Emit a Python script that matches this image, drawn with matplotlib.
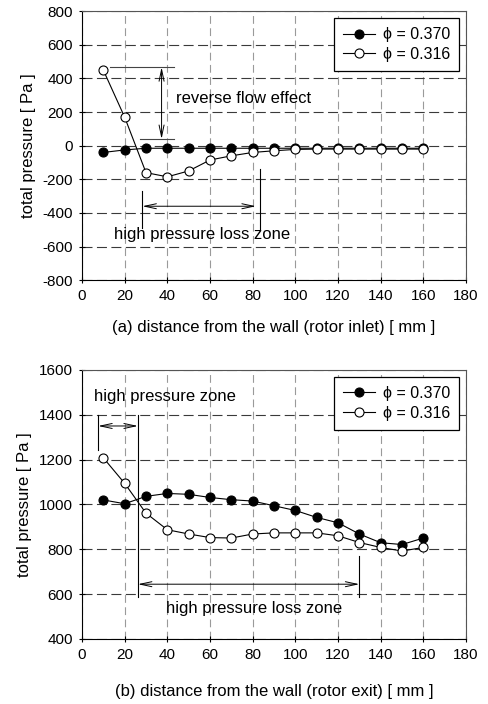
import matplotlib
matplotlib.use('Agg')
import matplotlib.pyplot as plt
import numpy as np

plt.rcParams['font.family'] = ['Liberation Sans', 'DejaVu Sans']
plt.rcParams['font.size'] = 12
plt.rcParams['axes.unicode_minus'] = False

# ---- data ----
dist = [10, 20, 30, 40, 50, 60, 70, 80, 90, 100, 110, 120, 130, 140, 150, 160]

inlet_370 = [-40, -25, -15, -15, -15, -15, -15, -15, -15, -15, -15, -15, -15, -15, -15, -15]
inlet_316 = [450, 170, -160, -185, -150, -85, -60, -40, -30, -22, -20, -20, -20, -20, -20, -20]

exit_370 = [1020, 1003, 1036, 1049, 1045, 1031, 1021, 1015, 994, 973, 942, 918, 868, 829, 821, 850]
exit_316 = [1208, 1094, 961, 887, 868, 852, 850, 868, 873, 873, 873, 860, 830, 808, 792, 808]

labels = ['\u03d5 = 0.370', '\u03d5 = 0.316']
xlabels = ['(a) distance from the wall (rotor inlet) [ mm ]',
           '(b) distance from the wall (rotor exit) [ mm ]']
ylims = [(-800, 800), (400, 1600)]
FS = 12
TS = 11


def style_axes(ax, ylim, xlabel, lpad):
    ax.set_xlim(0, 180)
    ax.set_ylim(*ylim)
    ax.set_xticks(np.arange(0, 181, 20))
    ax.set_yticks(np.arange(ylim[0], ylim[1] + 1, 200))
    ax.tick_params(direction='inout', length=5, width=0.8, pad=4, labelsize=TS)
    ax.xaxis.grid(True, color='#9a9a9a', ls=(0, (7, 4)), lw=0.8)
    ax.yaxis.grid(True, color='#3a3a3a', ls=(0, (9, 4)), lw=0.8)
    ax.set_axisbelow(True)
    for s in ['top', 'right']:
        ax.spines[s].set_color('#555555')
        ax.spines[s].set_linewidth(0.8)
    for s in ['left', 'bottom']:
        ax.spines[s].set_linewidth(0.8)
    ax.set_xlabel(xlabel, fontsize=FS, labelpad=lpad)
    ax.set_ylabel('total pressure [ Pa ]', fontsize=FS, labelpad=5)


def plot_pair(ax, y1, y2):
    ax.plot(dist, y1, '-o', color='k', lw=0.8, ms=6.5, mfc='k', mec='k',
            mew=0.8, label=labels[0], zorder=3)
    ax.plot(dist, y2, '-o', color='k', lw=0.8, ms=6.5, mfc='white', mec='k',
            mew=0.8, label=labels[1], zorder=4)
    leg = ax.legend(loc='upper right', fancybox=False, framealpha=1,
                    edgecolor='k', fontsize=11.5, handlelength=2.0,
                    handletextpad=0.5, borderpad=0.55, labelspacing=0.3,
                    borderaxespad=0.45)
    leg.get_frame().set_linewidth(0.9)


def darrow(ax, p0, p1):
    ax.annotate('', xy=p1, xytext=p0,
                arrowprops=dict(arrowstyle='<->,head_length=0.7,head_width=0.15',
                                lw=0.7, color='k', shrinkA=0, shrinkB=0))


fig = plt.figure(figsize=(4.88, 7.04), dpi=100)
ax1 = fig.add_axes([0.168, 0.602, 0.787, 0.382])
ax2 = fig.add_axes([0.168, 0.0925, 0.787, 0.382])

# ---- (a) rotor inlet ----
style_axes(ax1, ylims[0], xlabels[0], 12)
plot_pair(ax1, inlet_370, inlet_316)
ax1.plot([13, 43], [467, 467], color='#444444', lw=0.8)
ax1.plot([27, 43], [40, 40], color='#444444', lw=0.8)
darrow(ax1, (37.3, 467), (37.3, 40))
ax1.text(44, 280, 'reverse flow effect', fontsize=FS, va='center', ha='left')
ax1.plot([28.3, 28.3], [-270, -490], color='k', lw=0.8)
ax1.plot([83.4, 83.4], [-140, -495], color='k', lw=0.8)
darrow(ax1, (28.3, -360), (81.5, -360))
ax1.text(56.5, -530, 'high pressure loss zone', fontsize=FS, va='center', ha='center')

# ---- (b) rotor exit ----
style_axes(ax2, ylims[1], xlabels[1], 16)
plot_pair(ax2, exit_370, exit_316)
ax2.text(39, 1481, 'high pressure zone', fontsize=FS, va='center', ha='center')
ax2.plot([7.6, 7.6], [1399, 1243], color='k', lw=0.8)
ax2.plot([26.2, 26.2], [1400, 589], color='k', lw=0.8)
darrow(ax2, (7.6, 1350), (26.2, 1350))
ax2.plot([130, 130], [768, 589], color='k', lw=0.8)
darrow(ax2, (26.2, 644), (130, 644))
ax2.text(80.8, 534, 'high pressure loss zone', fontsize=FS, va='center', ha='center')

fig.savefig('out.png', dpi=100)
